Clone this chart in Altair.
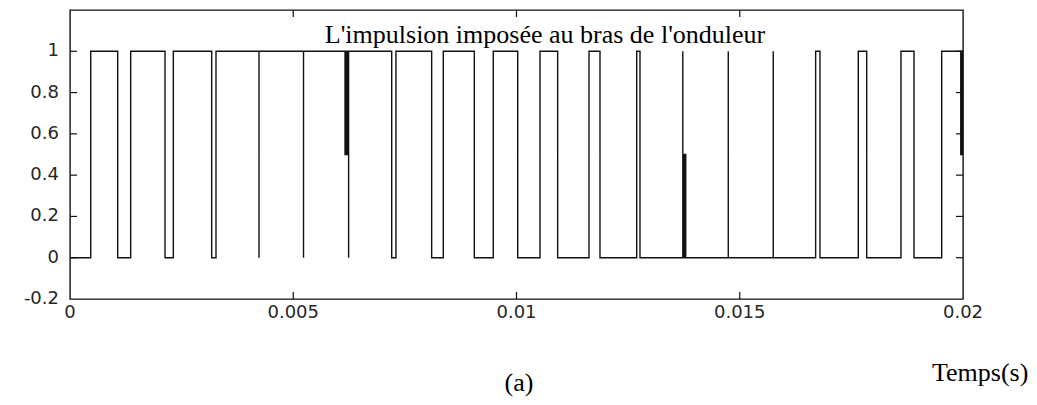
import altair as alt
import pandas as pd

# Switching instants (s) and the gate level reached at each instant
switch_times = [
    0.0, 0.000464, 0.001068, 0.001359, 0.002128, 0.002314, 0.003173, 0.003270,
    0.004233, 0.004233,
    0.005230, 0.005230,
    0.006160, 0.006180, 0.006200, 0.006220, 0.006240, 0.006240,
    0.007205, 0.007300,
    0.008100, 0.008360,
    0.009055, 0.009480,
    0.010027, 0.010526,
    0.010922, 0.011624,
    0.011870, 0.012692,
    0.012766,
    0.013725, 0.013725, 0.013745, 0.013760, 0.013775, 0.013790,
    0.014743, 0.014743,
    0.015750, 0.015750,
    0.016700, 0.016797,
    0.017655, 0.017843,
    0.018611, 0.018903,
    0.019523,
    0.019950, 0.019970, 0.019990, 0.020000,
]
switch_levels = [
    0, 1, 0, 1, 0, 1, 0, 1,
    0, 1,
    0, 1,
    0.5, 1, 0.5, 1, 0, 1,
    0, 1,
    0, 1,
    0, 1,
    0, 1,
    0, 1,
    0, 1,
    0,
    1, 0, 0.5, 0, 0.5, 0,
    1, 0,
    1, 0,
    1, 0,
    1, 0,
    1, 0,
    1,
    0.5, 1, 0.5, 0.5,
]

x_ticks = [0, 0.005, 0.01, 0.015, 0.02]
x_tick_labels = ["0", "0.005", "0.01", "0.015", "0.02"]
y_ticks = [-0.2, 0, 0.2, 0.4, 0.6, 0.8, 1]
y_tick_labels = ["-0.2", "0", "0.2", "0.4", "0.6", "0.8", "1"]
x_inner_ticks = [0.005, 0.01, 0.015]
y_inner_ticks = [0, 0.2, 0.4, 0.6, 0.8, 1]

plot_title = ["L'impulsion imposée au bras de l'onduleur"]
x_title = ["Temps(s)"]
caption = ["(a)"]

W, H = 893, 289
TICK = 7
INK = "#111111"
LABEL_FONT = "DejaVu Sans"
LABEL_SIZE = 18
LABEL_COLOR = "#262626"

x_scale = alt.Scale(domain=[0, 0.02], nice=False, zero=False)
y_scale = alt.Scale(domain=[-0.2, 1.2], nice=False, zero=False)

signal = pd.DataFrame({
    "t": switch_times,
    "v": switch_levels,
    "i": list(range(len(switch_times))),
})

line = alt.Chart(signal).mark_line(
    interpolate="step-after", color=INK, strokeWidth=1.4
).encode(
    x=alt.X("t:Q", scale=x_scale, axis=None),
    y=alt.Y("v:Q", scale=y_scale, axis=None),
    order="i:Q",
)

# Inward tick marks on all four sides of the box
xt = pd.DataFrame({"tx": x_inner_ticks})
yt = pd.DataFrame({"ty": y_inner_ticks})

x_bottom = alt.Chart(xt).mark_rule(color=INK, strokeWidth=1.2).encode(
    x=alt.X("tx:Q", scale=x_scale, axis=None),
    y=alt.value(H), y2=alt.value(H - TICK),
)
x_top = alt.Chart(xt).mark_rule(color=INK, strokeWidth=1.2).encode(
    x=alt.X("tx:Q", scale=x_scale, axis=None),
    y=alt.value(0), y2=alt.value(TICK),
)
y_left = alt.Chart(yt).mark_rule(color=INK, strokeWidth=1.2).encode(
    y=alt.Y("ty:Q", scale=y_scale, axis=None),
    x=alt.value(0), x2=alt.value(TICK),
)
y_right = alt.Chart(yt).mark_rule(color=INK, strokeWidth=1.2).encode(
    y=alt.Y("ty:Q", scale=y_scale, axis=None),
    x=alt.value(W), x2=alt.value(W - TICK),
)

# Tick labels placed through the same scales
x_labels = alt.Chart(pd.DataFrame({"tx": x_ticks, "lab": x_tick_labels})).mark_text(
    font=LABEL_FONT, fontSize=LABEL_SIZE, color=LABEL_COLOR,
    align="center", baseline="top",
).encode(
    x=alt.X("tx:Q", scale=x_scale, axis=None),
    y=alt.value(H + 5),
    text="lab:N",
)
y_labels = alt.Chart(pd.DataFrame({"ty": y_ticks, "lab": y_tick_labels})).mark_text(
    font=LABEL_FONT, fontSize=LABEL_SIZE, color=LABEL_COLOR,
    align="right", baseline="middle",
).encode(
    y=alt.Y("ty:Q", scale=y_scale, axis=None),
    x=alt.value(-11),
    text="lab:N",
)

title_mark = alt.Chart(pd.DataFrame({"s": plot_title})).mark_text(
    font="Liberation Serif", fontSize=26, color="#000000",
    align="center", baseline="alphabetic",
).encode(text="s:N", x=alt.value(475), y=alt.value(33))

xtitle_mark = alt.Chart(pd.DataFrame({"s": x_title})).mark_text(
    font="Liberation Serif", fontSize=26, color="#000000",
    align="left", baseline="alphabetic",
).encode(text="s:N", x=alt.value(862), y=alt.value(371))

caption_mark = alt.Chart(pd.DataFrame({"s": caption})).mark_text(
    font="Liberation Serif", fontSize=26, color="#000000",
    align="center", baseline="alphabetic",
).encode(text="s:N", x=alt.value(449), y=alt.value(381))

chart = alt.layer(
    line, x_bottom, x_top, y_left, y_right, x_labels, y_labels,
    title_mark, xtitle_mark, caption_mark,
).properties(
    width=W, height=H,
    autosize=alt.AutoSizeParams(type="none"),
    padding={"left": 70, "top": 10, "right": 74, "bottom": 106},
    background="white",
).configure_view(
    stroke=INK, strokeWidth=1.4, fill="white",
)

chart.save("out.html", embed_options={"renderer": "svg", "actions": False})
